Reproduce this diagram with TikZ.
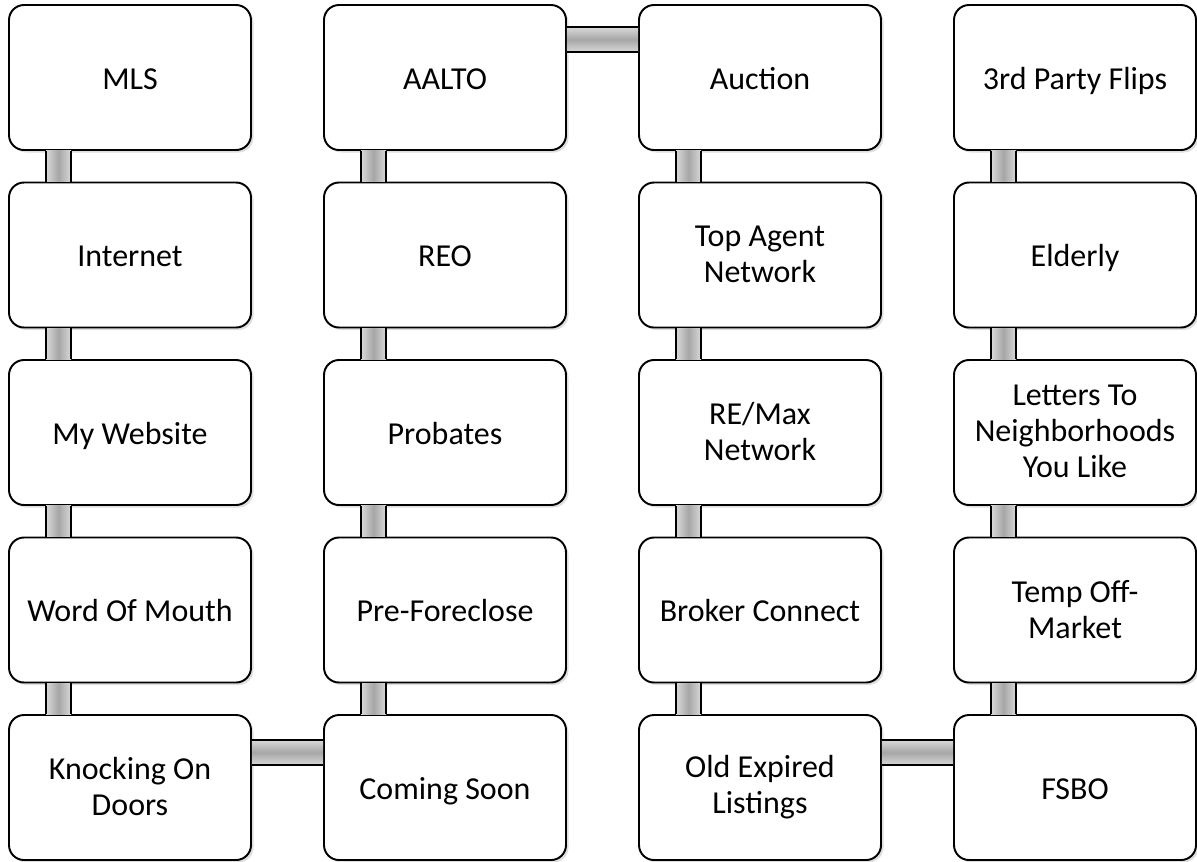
\documentclass[tikz,border=0pt]{standalone}
\usepackage{fontspec}
\setmainfont{Carlito}
\usetikzlibrary{positioning, calc, shadows}
\newcommand{\boxstrut}{\rule[-5pt]{0pt}{23.5pt}}
\newcommand{\laststrut}{\rule[-1pt]{0pt}{1pt}}

\begin{document}
\begin{tikzpicture}[
    source/.style={draw, line width=1.1pt, rounded corners=0.3cm, fill=white,
        minimum width=4.84cm, minimum height=2.9cm, align=center,
        font=\fontsize{18.2}{20.5}\selectfont,
        drop shadow={shadow xshift=0.05cm, shadow yshift=-0.05cm, opacity=0.25}},
    oneline/.style={source, execute at begin node=\boxstrut, execute at end node=\boxstrut},
    multiline/.style={source, execute at end node=\laststrut},
    vbar/.style={left color=gray!30, right color=gray!30, middle color=gray!70},
    hbar/.style={top color=gray!30, bottom color=gray!30, middle color=gray!70},
    barline/.style={line width=1.4pt}
]

    % Page frame
    \useasboundingbox (0,0) rectangle (23.94,-17.22);

    % First column
    \node[oneline]   (mls)   at (2.6,-1.55)  {MLS};
    \node[oneline]   (inet)  at (2.6,-5.1)   {Internet};
    \node[oneline]   (site)  at (2.6,-8.65)  {My Website};
    \node[oneline]   (mouth) at (2.6,-12.2)  {Word Of Mouth};
    \node[multiline] (knock) at (2.6,-15.75) {Knocking On\\Doors};

    % Second column
    \node[oneline]   (aalto) at (8.9,-1.55)  {AALTO};
    \node[oneline]   (reo)   at (8.9,-5.1)   {REO};
    \node[oneline]   (prob)  at (8.9,-8.65)  {Probates};
    \node[oneline]   (pre)   at (8.9,-12.2)  {Pre-Foreclose};
    \node[oneline]   (soon)  at (8.9,-15.75) {Coming Soon};

    % Third column
    \node[oneline]   (auct)  at (15.2,-1.55)  {Auction};
    \node[multiline] (top)   at (15.2,-5.1)   {Top Agent\\Network};
    \node[multiline] (remax) at (15.2,-8.65)  {RE/Max\\Network};
    \node[oneline]   (brok)  at (15.2,-12.2)  {Broker Connect};
    \node[multiline] (old)   at (15.2,-15.75) {Old Expired\\Listings};

    % Fourth column
    \node[oneline]   (flip)  at (21.5,-1.55)  {3rd Party Flips};
    \node[oneline]   (eld)   at (21.5,-5.1)   {Elderly};
    \node[multiline] (lett)  at (21.5,-8.65)  {Letters To\\Neighborhoods\\You Like};
    \node[multiline] (temp)  at (21.5,-12.2)  {Temp Off-\\Market};
    \node[oneline]   (fsbo)  at (21.5,-15.75) {FSBO};

    % Vertical links inside each column
    \foreach \a/\b in {mls/inet, inet/site, site/mouth, mouth/knock,
                       aalto/reo, reo/prob, prob/pre, pre/soon,
                       auct/top, top/remax, remax/brok, brok/old,
                       flip/eld, eld/lett, lett/temp, temp/fsbo} {
        \fill[vbar] ([xshift=0.76cm]\a.south west) rectangle ([xshift=1.26cm]\b.north west);
        \draw[barline] ([xshift=0.76cm]\a.south west) -- ([xshift=0.76cm]\b.north west)
                       ([xshift=1.26cm]\a.south west) -- ([xshift=1.26cm]\b.north west);
    }

    % Horizontal links between columns
    \fill[hbar] ([yshift=-0.46cm]aalto.north east) rectangle ([yshift=-0.96cm]auct.north west);
    \draw[barline] ([yshift=-0.46cm]aalto.north east) -- ([yshift=-0.46cm]auct.north west)
                   ([yshift=-0.96cm]aalto.north east) -- ([yshift=-0.96cm]auct.north west);

    \fill[hbar] ([yshift=-0.52cm]knock.north east) rectangle ([yshift=-1.02cm]soon.north west);
    \draw[barline] ([yshift=-0.52cm]knock.north east) -- ([yshift=-0.52cm]soon.north west)
                   ([yshift=-1.02cm]knock.north east) -- ([yshift=-1.02cm]soon.north west);

    \fill[hbar] ([yshift=-0.52cm]old.north east) rectangle ([yshift=-1.02cm]fsbo.north west);
    \draw[barline] ([yshift=-0.52cm]old.north east) -- ([yshift=-0.52cm]fsbo.north west)
                   ([yshift=-1.02cm]old.north east) -- ([yshift=-1.02cm]fsbo.north west);

\end{tikzpicture}
\end{document}
